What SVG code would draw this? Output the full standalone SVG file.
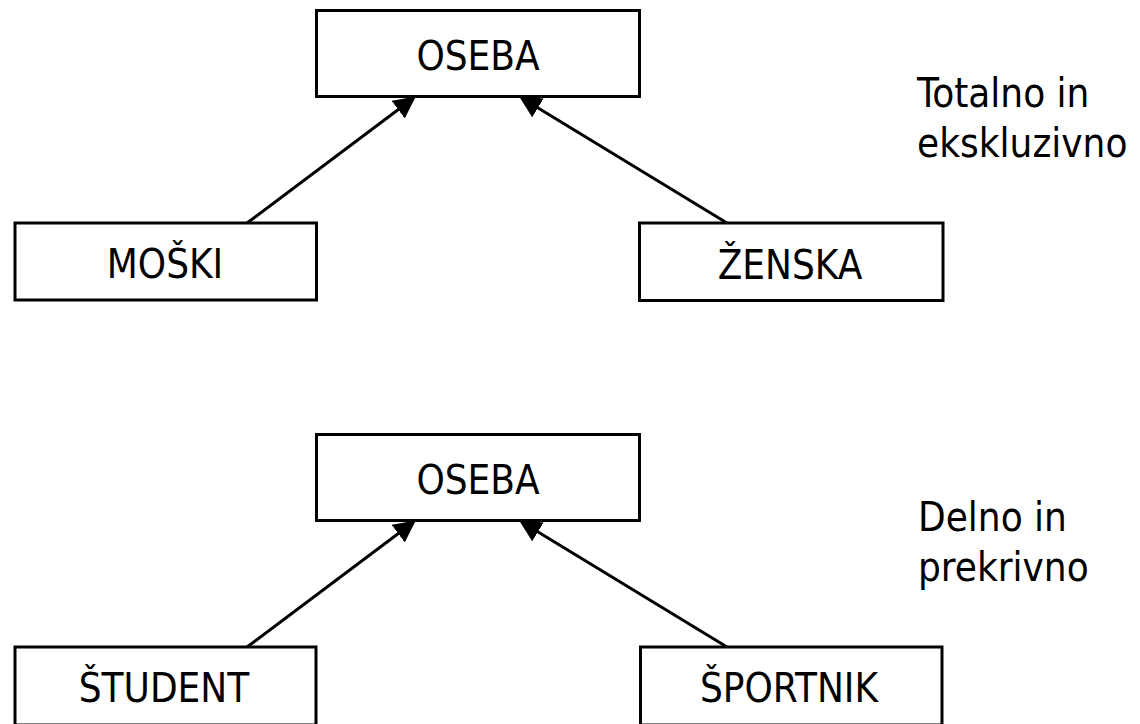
<svg xmlns="http://www.w3.org/2000/svg" width="1140" height="724" viewBox="0 0 1140 724">
<style>
.box{fill:#fff;stroke:#000;stroke-width:3}
.lbl{font-family:"DejaVu Sans Condensed","DejaVu Sans",sans-serif;font-stretch:condensed;font-size:40px;fill:#000;text-anchor:middle}
.note{font-family:"DejaVu Sans Condensed","DejaVu Sans",sans-serif;font-stretch:condensed;font-size:40px;fill:#000}
.conn{stroke:#000;stroke-width:3;fill:none;marker-end:url(#arr)}
</style>
<defs>
<marker id="arr" markerUnits="userSpaceOnUse" markerWidth="22" markerHeight="22" refX="6" refY="11" orient="auto" viewBox="0 0 22 22">
<path d="M0,0 L22,11 L0,22 z" fill="#000"/>
</marker>
</defs>
<rect width="1140" height="724" fill="#fff"/>
<g id="connectors">
<line class="conn" x1="247" y1="223" x2="403" y2="106"/>
<line class="conn" x1="727" y1="223" x2="532.8" y2="104.8"/>
<line class="conn" x1="247" y1="647" x2="403" y2="530"/>
<line class="conn" x1="727" y1="647" x2="532.8" y2="528.8"/>
</g>
<g id="oseba1"><rect class="box" x="316.5" y="10.5" width="323" height="86"/><text class="lbl" x="478" y="70">OSEBA</text></g>
<g id="moski"><rect class="box" x="15" y="223" width="301.5" height="77"/><text class="lbl" x="165" y="278">MOŠKI</text></g>
<g id="zenska"><rect class="box" x="639.5" y="223" width="303.5" height="77.5"/><text class="lbl" x="790" y="279">ŽENSKA</text></g>
<g id="note1"><text class="note" x="917" y="107">Totalno in</text><text class="note" x="917" y="157">ekskluzivno</text></g>
<g id="oseba2"><rect class="box" x="316.5" y="434.5" width="323" height="86"/><text class="lbl" x="478" y="494">OSEBA</text></g>
<g id="student"><rect class="box" x="15" y="647" width="301" height="78"/><text class="lbl" x="164" y="702">ŠTUDENT</text></g>
<g id="sportnik"><rect class="box" x="640.5" y="647" width="301.5" height="78"/><text class="lbl" x="789" y="702">ŠPORTNIK</text></g>
<g id="note2"><text class="note" x="918" y="531">Delno in</text><text class="note" x="918" y="581">prekrivno</text></g>
</svg>
